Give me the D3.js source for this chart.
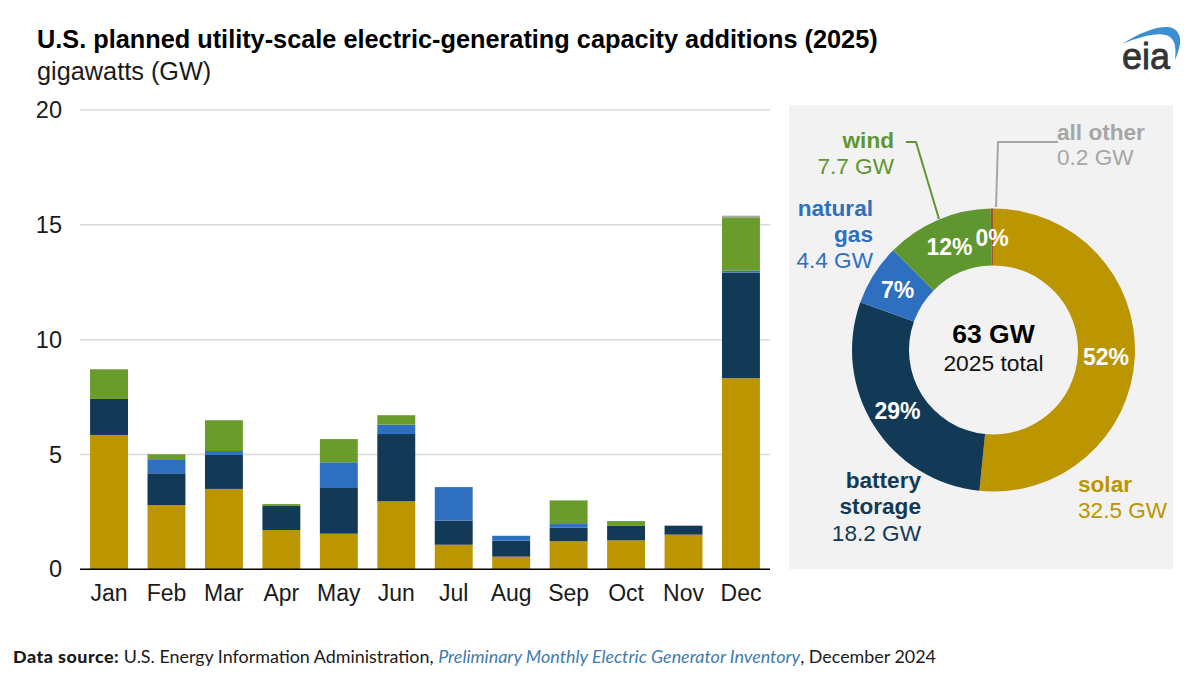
<!DOCTYPE html>
<html>
<head>
<meta charset="utf-8">
<script src="https://cdn.jsdelivr.net/npm/d3@7"></script>
<style>
  html, body { margin: 0; padding: 0; background: #fff; }
  text { font-family: "Liberation Sans", Arial, sans-serif; }
</style>
</head>
<body>
<div id="chart"></div>
<script>
const months = ['Jan', 'Feb', 'Mar', 'Apr', 'May', 'Jun', 'Jul', 'Aug', 'Sep', 'Oct', 'Nov', 'Dec']
const yTicks = [0, 5, 10, 15, 20]

// monthly additions in GW
const solar   = [5.85, 2.80, 3.50, 1.71, 1.55, 2.96, 1.07, 0.55, 1.22, 1.26, 1.51, 8.32]
const battery = [1.57, 1.38, 1.48, 1.05, 1.99, 2.93, 1.05, 0.70, 0.59, 0.63, 0.39, 4.60]
const gas     = [0.00, 0.58, 0.17, 0.00, 1.12, 0.41, 1.46, 0.21, 0.16, 0.00, 0.00, 0.08]
const wind    = [1.29, 0.25, 1.34, 0.08, 1.01, 0.41, 0.00, 0.00, 1.03, 0.21, 0.00, 2.33]
const other   = [0.00, 0.00, 0.00, 0.00, 0.00, 0.00, 0.00, 0.00, 0.00, 0.00, 0.00, 0.07]

const seriesNames = ['solar', 'battery', 'gas', 'wind', 'other']
const seriesValues = [solar, battery, gas, wind, other]
const seriesColors = ['#bb9600', '#123a56', '#2f6fc0', '#6a9b2d', '#a9a9a9']

// donut, clockwise from 12 o'clock
const donutNames = ['solar', 'battery storage', 'natural gas', 'wind', 'all other']
const donutValues = [32.5, 18.2, 4.4, 7.7, 0.2]
const donutLabels = ['52%', '29%', '7%', '12%', '0%']
const donutColors = ['#bb9600', '#123a56', '#2f6fc0', '#5f9630', '#a0522d']

const W = 1200, H = 697

const svg = d3.select('#chart').append('svg')
  .attr('width', W)
  .attr('height', H)
  .style('display', 'block')

// title
svg.append('text').attr('x', 37).attr('y', 48)
  .style('font-size', '25.3px').style('font-weight', 700).style('fill', '#000')
  .text('U.S. planned utility-scale electric-generating capacity additions (2025)')
svg.append('text').attr('x', 37).attr('y', 80)
  .style('font-size', '25.3px').style('fill', '#1a1a1a')
  .text('gigawatts (GW)')

// bars
const x = d3.scaleBand().domain(months).range([80.3, 769.7]).paddingInner(0.34).paddingOuter(0.17)
const y = d3.scaleLinear().domain([0, 20]).range([569.3, 110])

const rows = months.map((m, i) => {
  const row = { month: m }
  seriesNames.forEach((s, j) => { row[s] = seriesValues[j][i] })
  return row
})
const stacked = d3.stack().keys(seriesNames)(rows)

// gridlines
svg.append('g').selectAll('line')
  .data(yTicks.filter(d => d > 0))
  .join('line')
  .attr('x1', 80).attr('x2', 770)
  .attr('y1', d => y(d)).attr('y2', d => y(d))
  .style('stroke', '#d9d9d9').style('stroke-width', 1.5)

svg.append('g').selectAll('g')
  .data(stacked)
  .join('g')
  .style('fill', (d, i) => seriesColors[i])
  .selectAll('rect')
  .data(d => d)
  .join('rect')
  .attr('x', d => x(d.data.month))
  .attr('width', x.bandwidth())
  .attr('y', d => y(d[1]))
  .attr('height', d => y(d[0]) - y(d[1]))

// axes
const yAxis = d3.axisLeft(y).tickValues(yTicks).tickSize(0).tickPadding(0)
svg.append('g').attr('transform', 'translate(62,0)').call(yAxis)
  .call(g => g.select('.domain').remove())
  .call(g => g.selectAll('text').style('font-size', '23.5px').style('fill', '#1a1a1a'))

const xAxis = d3.axisBottom(x).tickSize(0).tickPadding(15)
svg.append('g').attr('transform', 'translate(0,569.3)').call(xAxis)
  .call(g => g.select('.domain').attr('d', 'M80,0H770').style('stroke', '#000').style('stroke-width', 1.5))
  .call(g => g.selectAll('text').style('font-size', '23px').style('fill', '#1a1a1a'))

// right panel
svg.append('rect').attr('x', 789).attr('y', 105).attr('width', 384).attr('height', 464).style('fill', '#f2f2f2')

const cx = 993.5, cy = 350, rOut = 141.5, rIn = 84.5
const donut = svg.append('g').attr('transform', `translate(${cx},${cy})`)
const pie = d3.pie().sort(null)(donutValues)
const arc = d3.arc().innerRadius(rIn).outerRadius(rOut)

donut.selectAll('path')
  .data(pie)
  .join('path')
  .attr('d', arc)
  .style('fill', (d, i) => donutColors[i])

const pctPos = [[112.5, 7], [-96, 61], [-96, -60], [-44, -103], [-1.5, -112]]
donut.selectAll('text.pct')
  .data(donutLabels)
  .join('text')
  .attr('class', 'pct')
  .attr('x', (d, i) => pctPos[i][0])
  .attr('y', (d, i) => pctPos[i][1])
  .attr('text-anchor', 'middle')
  .attr('dy', '0.36em')
  .style('font-size', '23px').style('font-weight', 700).style('fill', '#fff')
  .text(d => d)

donut.append('text').attr('y', -7).attr('text-anchor', 'middle')
  .style('font-size', '26.5px').style('font-weight', 700).style('fill', '#000').text('63 GW')
donut.append('text').attr('y', 21).attr('text-anchor', 'middle')
  .style('font-size', '22.8px').style('fill', '#111').text('2025 total')

// donut labels
function label(px, anchor, color, lines) {
  const t = svg.append('text').attr('text-anchor', anchor).style('fill', color).style('font-size', '22.6px')
  lines.forEach(l => {
    t.append('tspan').attr('x', px).attr('y', l[0]).style('font-weight', l[2] ? 700 : 400).text(l[1])
  })
}
label(894, 'end', '#5f9630', [[147.5, 'wind', true], [173.5, '7.7 GW']])
label(1057, 'start', '#a6a6a6', [[139.5, 'all other', true], [164.5, '0.2 GW']])
label(873, 'end', '#2f6fc0', [[216, 'natural', true], [242, 'gas', true], [267.5, '4.4 GW']])
label(921, 'end', '#123a56', [[488, 'battery', true], [514, 'storage', true], [540.5, '18.2 GW']])
label(1078, 'start', '#bb9600', [[492, 'solar', true], [518, '32.5 GW']])

// leader lines
const leader = d3.line()
svg.append('path').attr('d', leader([[906, 142], [916, 142], [939, 219]]))
  .style('fill', 'none').style('stroke', '#5f9630').style('stroke-width', 2)
svg.append('path').attr('d', leader([[1058, 142], [998, 142], [996, 207]]))
  .style('fill', 'none').style('stroke', '#a6a6a6').style('stroke-width', 2)

// source line
const src = svg.append('text').attr('x', 13).attr('y', 662.5)
  .style('font-family', 'Lato, sans-serif').style('font-size', '17.9px').style('fill', '#1a1a1a')
src.append('tspan').style('font-weight', 900).style('letter-spacing', '0.5px').text('Data source:')
src.append('tspan').text(' U.S. Energy Information Administration, ')
src.append('tspan').style('font-style', 'italic').style('fill', '#3f7cac').text('Preliminary Monthly Electric Generator Inventory')
src.append('tspan').text(', December 2024')

// eia logo
svg.append('path')
  .attr('d', 'M1122,44 C1140,32 1158,26 1168,27 C1179,28 1181,38 1180,44 C1179,50 1177,55 1175,60 C1176,50 1176,42 1170,37 C1162,31 1142,36 1122,44 Z')
  .style('fill', '#3d8fd1')
svg.append('text').attr('x', 1122).attr('y', 69)
  .style('font-size', '36px').style('fill', '#333').style('stroke', '#333').style('stroke-width', 0.8).text('eia')
</script>
</body>
</html>
